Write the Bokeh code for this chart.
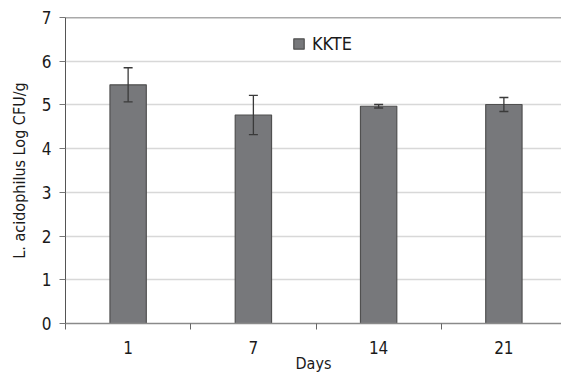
from bokeh.plotting import figure
from bokeh.models import (ColumnDataSource, Range1d, FixedTicker, Whisker, Legend,
                          LegendItem, Span, TeeHead)
from bokeh.embed import file_html
from bokeh.resources import INLINE

# ---- data ----
days = ["1", "7", "14", "21"]
kkte_mean = [5.46, 4.77, 4.97, 5.01]
kkte_err = [0.39, 0.45, 0.04, 0.16]
series_name = "KKTE"
y_ticks = [0, 1, 2, 3, 4, 5, 6, 7]

FONT = "DejaVu Sans Condensed, Roboto Condensed, Liberation Sans Narrow, Roboto"
TXT = "#1a1a1a"

xpos = [i + 1 for i in range(len(days))]
src = ColumnDataSource(dict(
    x=xpos, top=kkte_mean,
    upper=[m + e for m, e in zip(kkte_mean, kkte_err)],
    lower=[m - e for m, e in zip(kkte_mean, kkte_err)],
))

p = figure(width=561, height=375, output_backend="svg", toolbar_location=None,
           x_range=Range1d(0.5, 4.46), y_range=Range1d(0, 7),
           min_border_left=65, min_border_right=0, min_border_top=17, min_border_bottom=40)
p.outline_line_color = None
p.background_fill_color = "white"
p.border_fill_color = "white"

r = p.vbar(x="x", top="top", width=0.29, source=src, fill_color="#77787b",
           line_color="#505050", line_width=1.2)

w = Whisker(base="x", upper="upper", lower="lower", source=src,
            line_color="#3a3a3a", line_width=1.3, level="overlay",
            upper_head=TeeHead(size=9, line_color="#3a3a3a", line_width=1.3),
            lower_head=TeeHead(size=9, line_color="#3a3a3a", line_width=1.3))
p.add_layout(w)

p.add_layout(Span(location=y_ticks[-1], dimension="width", line_color="#555555", line_width=1.3))

# grid
p.xgrid.grid_line_color = None
p.ygrid.ticker = FixedTicker(ticks=y_ticks[1:-1])
p.ygrid.grid_line_color = "#d8d8d8"
p.ygrid.grid_line_width = 1.5

# x axis
p.xaxis.ticker = FixedTicker(ticks=xpos, minor_ticks=[i + 0.5 for i in range(len(days) + 1)])
p.xaxis.major_label_overrides = {x: d for x, d in zip(xpos, days)}
p.xaxis.major_tick_out = 0
p.xaxis.major_tick_in = 0
p.xaxis.minor_tick_out = 6
p.xaxis.minor_tick_in = 0
p.xaxis.minor_tick_line_color = "#666666"
p.xaxis.axis_line_color = "#8a8a8a"
p.xaxis.axis_line_width = 1.5
p.xaxis.axis_label = "Days"
p.xaxis.major_label_standoff = 11
p.xaxis.axis_label_standoff = -3

# y axis
p.yaxis.ticker = FixedTicker(ticks=y_ticks)
p.yaxis.major_tick_out = 6
p.yaxis.major_tick_in = 0
p.yaxis.minor_tick_line_color = None
p.yaxis.axis_line_color = "#555555"
p.yaxis.major_tick_line_color = "#777777"
p.yaxis.axis_label = "L. acidophilus Log CFU/g"
p.yaxis.major_label_standoff = 8
p.yaxis.axis_label_standoff = 10

for ax in (p.xaxis[0], p.yaxis[0]):
    ax.major_label_text_font = FONT
    ax.major_label_text_font_size = "17px"
    ax.major_label_text_color = TXT
    ax.axis_label_text_font = FONT
    ax.axis_label_text_font_size = "16px"
    ax.axis_label_text_font_style = "normal"
    ax.axis_label_text_color = TXT

legend = Legend(items=[LegendItem(label=series_name, renderers=[r])],
                location=(227, 269), orientation="horizontal",
                padding=0, margin=0, spacing=0,
                glyph_width=13, glyph_height=13, label_standoff=7,
                label_text_font=FONT, label_text_font_size="18px", label_text_color=TXT,
                border_line_color=None, background_fill_alpha=0)
p.add_layout(legend)

open("out.html", "w").write(file_html(p, INLINE))
